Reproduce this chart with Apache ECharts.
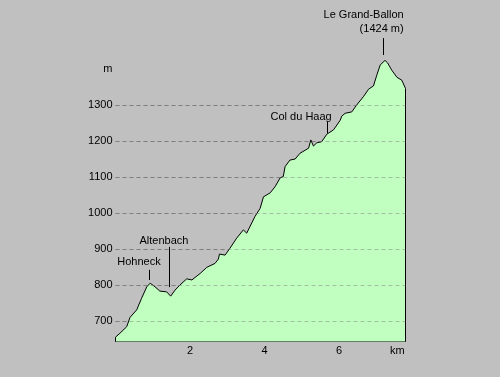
<!DOCTYPE html>
<html>
<head>
<meta charset="utf-8">
<script src="https://cdn.jsdelivr.net/npm/echarts@6/dist/echarts.min.js"></script>
<style>
  html, body { margin: 0; padding: 0; background: #c0c0c0; }
  #chart { width: 500px; height: 377px; }
</style>
</head>
<body>
<div id="chart"></div>
<script>
// profile: distance (km) / elevation (m)
const distances = [
  0.00, 0.12, 0.30, 0.39, 0.57, 0.70, 0.84, 0.93, 1.06, 1.19, 1.37, 1.40, 1.48,
  1.60, 1.73, 1.91, 2.05, 2.27, 2.45, 2.67, 2.76, 2.79, 2.94, 3.07, 3.25, 3.43,
  3.52, 3.74, 3.88, 3.97, 4.15, 4.28, 4.42, 4.50, 4.55, 4.68, 4.82, 4.95, 5.18,
  5.24, 5.31, 5.40, 5.53, 5.67, 5.85, 6.03, 6.07, 6.16, 6.34, 6.47, 6.65, 6.79,
  6.92, 7.01, 7.10, 7.23, 7.30, 7.41, 7.55, 7.68, 7.78
]
const elevations = [
  655, 666, 684, 710, 731, 763, 795, 805, 795, 783, 781, 784, 769,
  786, 800, 817, 814, 832, 849, 860, 872, 886, 883, 902, 930, 953,
  944, 990, 1013, 1045, 1056, 1073, 1098, 1101, 1129, 1147, 1150, 1166, 1180,
  1203, 1186, 1195, 1198, 1219, 1231, 1258, 1269, 1277, 1281, 1300, 1323, 1344,
  1353, 1383, 1411, 1424, 1417, 1397, 1377, 1369, 1346
]

const yTicks = [700, 800, 900, 1000, 1100, 1200, 1300]
const xTicks = [2, 4, 6]
const yUnit = 'm'
const xUnit = 'km'

// named places on the profile
const placeNames = ['Hohneck', 'Altenbach', 'Col du Haag', 'Le Grand-Ballon\n(1424 m)']
const placeKm = [0.90, 1.44, 5.67, 7.17]

const yMin = 643
const yMax = 1564
const xMax = 7.78

// leader line ends and label anchors (data space)
const leaderFrom = [814, 794, 1222, 1439]
const leaderTo = [842, 906, 1253, 1486]
const labelAt = [[0.63, 864], [1.30, 922], [4.98, 1267], [7.73, 1531]]

const font = { fontFamily: 'Liberation Sans, Arial, sans-serif', fontSize: 11, color: '#000' }
const gridDash = { color: '#808080', type: [4, 3], width: 1 }

const chart = echarts.init(document.getElementById('chart'))

const profile = distances.map((d, i) => [d, elevations[i]])
// close the outline down to the base on both ends
profile.unshift([distances[0], yMin])
profile.push([distances[distances.length - 1], yMin])

// leaders for the place names
const leaders = placeKm.map((k, i) => [
  { coord: [k, leaderFrom[i]] },
  { coord: [k, leaderTo[i]] }
])
// grid lines again on top of the fill, fainter
const gridOver = yTicks.map((v) => ({
  yAxis: v,
  lineStyle: { ...gridDash, opacity: 0.5 }
}))

chart.setOption({
  backgroundColor: '#c0c0c0',
  animation: false,
  grid: { left: 115.5, right: 94.5, top: 10, bottom: 35.5 },
  xAxis: {
    type: 'value',
    min: 0,
    max: xMax,
    axisLine: { lineStyle: { color: '#000', width: 1 } },
    axisTick: { show: false },
    splitLine: { show: false },
    axisLabel: {
      ...font,
      margin: 4,
      customValues: [...xTicks, 7.56],
      formatter: (v) => (v === 7.56 ? xUnit : String(v))
    }
  },
  yAxis: {
    type: 'value',
    min: yMin,
    max: yMax,
    axisLine: { show: false },
    axisTick: { show: false, customValues: yTicks },
    splitLine: { lineStyle: gridDash },
    axisLabel: {
      ...font,
      margin: 3,
      customValues: [...yTicks, 1400],
      formatter: (v) => (v === 1400 ? yUnit : String(v))
    }
  },
  series: [
    {
      type: 'line',
      data: profile,
      symbol: 'none',
      lineStyle: { color: '#000', width: 1 },
      areaStyle: { color: '#c0ffc0', opacity: 1 },
      markLine: {
        silent: true,
        symbol: ['none', 'none'],
        lineStyle: { color: '#000', type: 'solid', width: 1 },
        label: { show: false },
        data: [...gridOver, ...leaders]
      },
      markPoint: {
        silent: true,
        symbolSize: 0,
        data: placeNames.map((n, i) => ({
          name: n,
          coord: labelAt[i],
          label: {
            show: true,
            position: 'inside',
            formatter: '{b}',
            ...font,
            lineHeight: 14,
            align: i === 3 ? 'right' : 'center',
            verticalAlign: 'middle'
          }
        }))
      }
    }
  ]
})
</script>
</body>
</html>
